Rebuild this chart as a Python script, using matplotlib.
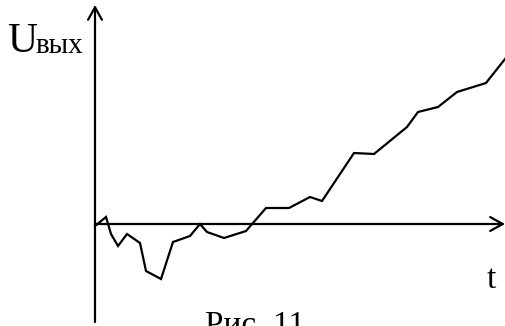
import matplotlib
matplotlib.use("Agg")
import matplotlib.pyplot as plt

# output voltage vs time (arbitrary units)
t = [0.0, 1.1, 1.6, 2.3, 3.2, 4.5, 5.1, 6.6, 7.8, 9.5, 10.5, 11.2, 12.9,
     15.1, 17.1, 19.4, 21.5, 22.7, 25.9, 27.9, 31.2, 32.3, 34.3, 36.2,
     39.1, 41.0]
u_out = [-0.2, 0.7, -1.0, -2.2, -1.0, -1.9, -4.7, -5.5, -1.8, -1.2, 0.0,
         -0.8, -1.4, -0.7, 1.6, 1.6, 2.7, 2.3, 7.1, 7.0, 9.7, 11.2, 11.7,
         13.2, 14.1, 16.5]

y_label = "U"
y_sub = "вых"
x_label = "t"
caption = "Рис. 11"

plt.rcParams['font.family'] = ['Liberation Serif', 'DejaVu Serif']

fig = plt.figure(figsize=(5.05, 3.26), dpi=100)
ax = fig.add_axes([0, 0, 1, 1])
ax.set_xlim(-9.5, 41.0)
ax.set_ylim(-10.2, 22.4)
ax.axis('off')

arrow = dict(arrowstyle='->,head_length=0.45,head_width=0.25',
             mutation_scale=20, lw=1.6, color='black',
             shrinkA=0, shrinkB=0)
# vertical axis
ax.annotate("", xy=(0, 21.9), xytext=(0, -9.8), arrowprops=arrow)
# horizontal axis
ax.annotate("", xy=(41.0, 0), xytext=(0, 0), arrowprops=arrow)

ax.plot(t, u_out, color='black', lw=1.6, solid_joinstyle='miter')

ax.text(-8.8, 17.2, y_label, fontsize=30, ha='left', va='baseline')
ax.text(-5.9, 17.1, y_sub, fontsize=21, ha='left', va='baseline')
ax.text(39.2, -6.4, x_label, fontsize=24, ha='left', va='baseline')
ax.text(11.0, -11.0, caption, fontsize=24, ha='left', va='baseline')

fig.savefig("out.png", dpi=100)
